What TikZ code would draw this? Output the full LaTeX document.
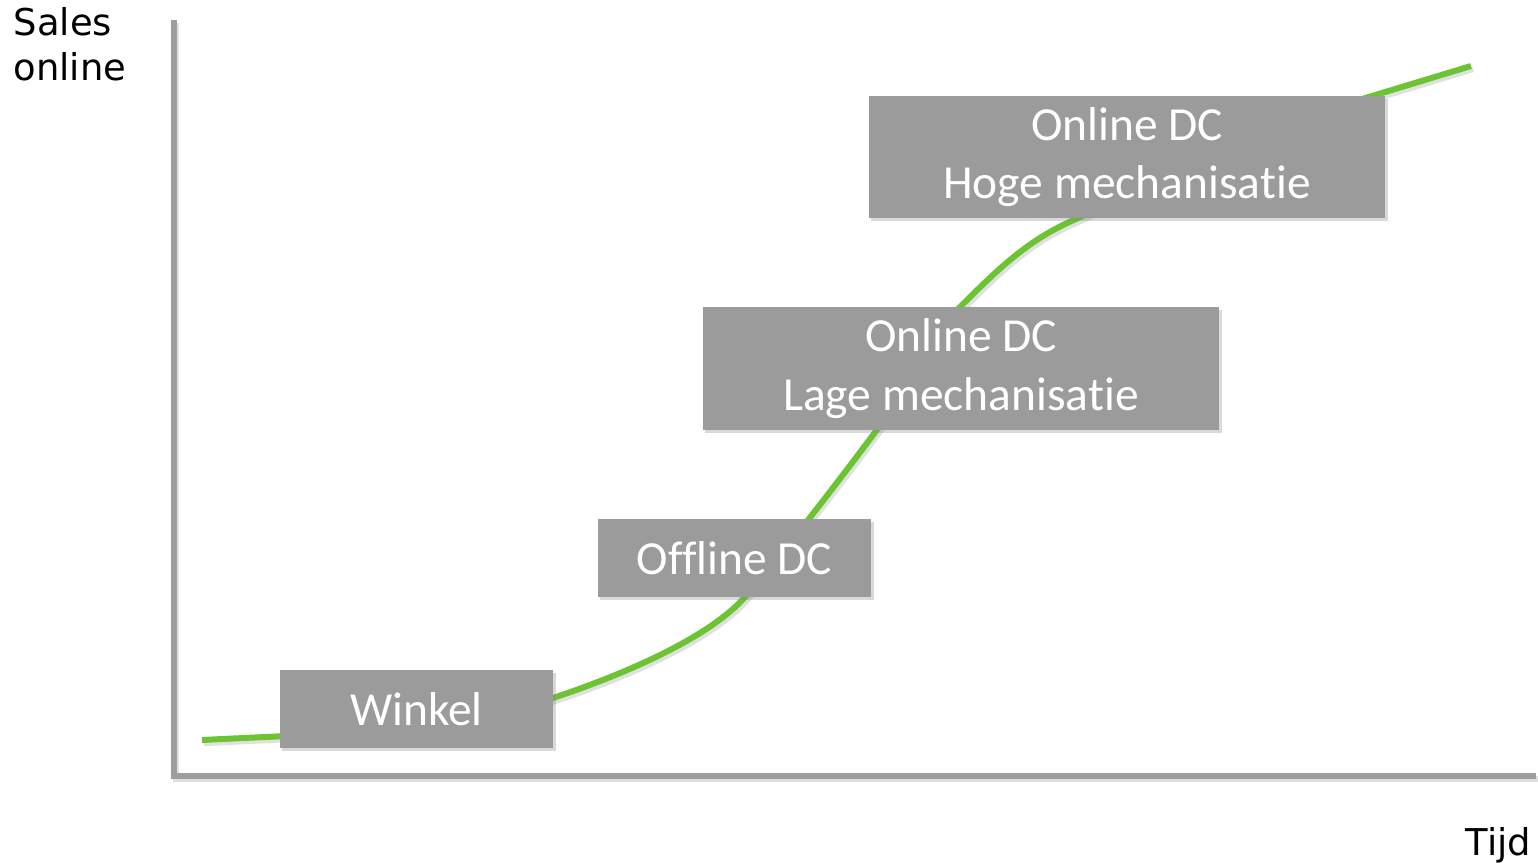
\documentclass[tikz,border=0pt]{standalone}
\usepackage{fontspec}
\setmainfont{DejaVu Sans}
\newfontfamily\boxfont[Ligatures=NoCommon]{Carlito}
\usetikzlibrary{positioning}
\usetikzlibrary{shadows}
\definecolor{boxgray}{RGB}{155,155,155}
\definecolor{axisgray}{RGB}{158,158,158}
\definecolor{curvegreen}{RGB}{109,196,51}

\begin{document}
\begin{tikzpicture}[x=0.01cm,y=-0.01cm]
	\tikzset{
		axisline/.style={draw=axisgray,line width=1.7pt},
		growth/.style={draw=curvegreen,line width=1.7pt},
		softshadow/.style={draw=black,opacity=0.12,transform canvas={xshift=0.6pt,yshift=-0.9pt}},
		stage/.style={fill=boxgray,text=white,align=center,inner sep=0,
			font=\boxfont\fontsize{13.5}{16.6}\selectfont,
			drop shadow={shadow xshift=0.7pt,shadow yshift=-0.9pt,opacity=0.3}},
		axislabel/.style={inner sep=0,align=left,font=\fontsize{10.5}{12.8}\selectfont}
	}
	
	\useasboundingbox (0,0) rectangle (1538,863);
	
	% axes
	\coordinate (ytop) at (174,20);
	\coordinate (xend) at (1536,776);
	\draw[axisline,softshadow] (ytop) |- (xend);
	\draw[axisline] (ytop) |- (xend);
	
	% growth curve, drawn below the boxes
	\foreach \name/\px/\py in {c0/202/740, c1/553/698, c2/745/597, c3/876/431,
		c4/960/307, c5/1076/219, c6/1372/96, c7/1471/66}
	\coordinate (\name) at (\px,\py);
	\def\growthpath{(c0) .. controls (319,734) and (436,733) .. (c1)
		.. controls (610,679) and (705,642) .. (c2)
		.. controls (780,557) and (832,490) .. (c3)
		.. controls (904,393) and (932,338) .. (c4)
		.. controls (1003,264) and (1030,239) .. (c5)
		.. controls (1176,174) and (1272,126) .. (c6)
		-- (c7)}
	\draw[growth,softshadow] \growthpath;
	\draw[growth] \growthpath;
	
	% stages
	\node[stage,minimum width=2.73cm,minimum height=0.78cm] (winkel) at (416.5,709) {Winkel};
	\node[stage,minimum width=2.73cm,minimum height=0.78cm] (offline) at (734.5,558) {Offline DC};
	\node[stage,minimum width=5.16cm,minimum height=1.23cm] (lage) at (961,368.5) {Online DC\\Lage mechanisatie};
	\node[stage,minimum width=5.16cm,minimum height=1.22cm] (hoge) at (1127,157) {Online DC\\Hoge mechanisatie};
	
	% axis labels
	\node[axislabel,anchor=north west] (ylabel) at (13,7) {Sales\\online};
	\node[axislabel,anchor=base east] (xlabel) at (1532,855) {Tijd};
\end{tikzpicture}
\end{document}
